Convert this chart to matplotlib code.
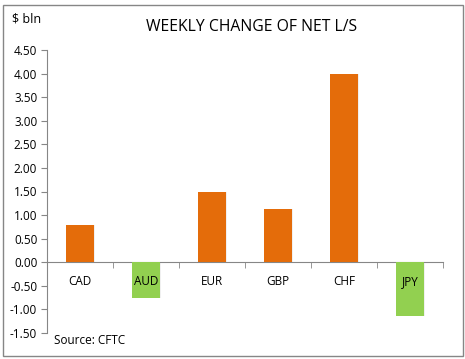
import matplotlib
matplotlib.use("Agg")
import matplotlib.pyplot as plt
from matplotlib.patches import Rectangle

# data
currencies = ["CAD", "AUD", "EUR", "GBP", "CHF", "JPY"]
weekly_change = [0.79, -0.75, 1.49, 1.13, 3.99, -1.15]
y_ticks = [-1.5, -1.0, -0.5, 0.0, 0.5, 1.0, 1.5, 2.0, 2.5, 3.0, 3.5, 4.0, 4.5]

ORANGE = "#E46C0A"
GREEN = "#92D050"
AXIS_GREY = "#868686"

plt.rcParams["font.family"] = ["Open Sans", "DejaVu Sans"]

fig = plt.figure(figsize=(4.65, 3.59), dpi=100)
ax = fig.add_axes([47 / 465, 1 - 333 / 359, (443 - 47) / 465, (333 - 50) / 359])

x = list(range(len(currencies)))
colours = [ORANGE if v >= 0 else GREEN for v in weekly_change]
# faint soft shadow, then bars (kept under the axis so labels stay on top)
ax.bar([i + 0.015 for i in x], weekly_change, width=0.43, color="#000000",
       alpha=0.06, zorder=0.5, linewidth=0)
ax.bar(x, weekly_change, width=0.41, color=colours, zorder=1, linewidth=0)
ax.set_axisbelow(False)

ax.set_xlim(-0.5, len(currencies) - 0.5)
ax.set_ylim(-1.5, 4.5)
ax.set_yticks(y_ticks)
ax.set_yticklabels([f"{t:.2f}" for t in y_ticks], fontsize=8.5)

# category axis sits on zero
ax.spines["bottom"].set_position(("data", 0))
ax.spines["bottom"].set_color(AXIS_GREY)
ax.spines["bottom"].set_zorder(0.8)
ax.spines["left"].set_color(AXIS_GREY)
ax.spines["top"].set_visible(False)
ax.spines["right"].set_visible(False)
ax.set_xticks(x)
ax.set_xticklabels(currencies, fontsize=8.5)
ax.set_xticks([i - 0.5 for i in range(len(currencies) + 1)], minor=True)
ax.tick_params(axis="x", which="major", length=0, pad=9)
ax.tick_params(axis="x", which="minor", length=4, color=AXIS_GREY, direction="out")
ax.tick_params(axis="y", length=4, color=AXIS_GREY, direction="out", pad=3)

fig.text(252 / 465, 1 - 27 / 359, "WEEKLY CHANGE OF NET L/S", ha="center",
         va="center", fontsize=11.3)
fig.text(12 / 465, 1 - 19 / 359, "$ bln", ha="left", va="center", fontsize=9)
fig.text(54 / 465, 1 - 340 / 359, "Source: CFTC", ha="left", va="center",
         fontsize=8.5)

# chart border
fig.patches.append(Rectangle((2.5 / 465, 1 - 355.5 / 359), 460 / 465, 351 / 359,
                             transform=fig.transFigure, fill=False,
                             edgecolor=AXIS_GREY, linewidth=1))

fig.savefig("out.png", dpi=100)
